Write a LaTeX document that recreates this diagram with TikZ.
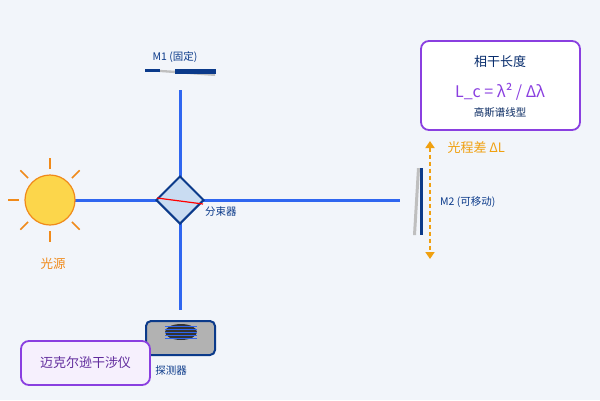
\documentclass[tikz,border=0pt]{standalone}
\usepackage{fontspec}
\setmainfont{Noto Sans CJK SC}
\usetikzlibrary{arrows.meta,shapes.geometric}
\definecolor{bg}{HTML}{F2F5FA}
\definecolor{beam}{HTML}{2F66F0}
\definecolor{dblue}{HTML}{0B3A8A}
\definecolor{purp}{HTML}{8A3FE0}
\definecolor{orng}{HTML}{F0A010}
\definecolor{sunor}{HTML}{F08A1A}
\definecolor{bsfill}{HTML}{C9DCF2}
\begin{document}
\begin{tikzpicture}[x=1pt,y=-1pt,
  beamline/.style={beam,line width=3pt},
  lbl/.style={font=\fontsize{10.5}{12}\selectfont,text=dblue,inner sep=0pt},
  box/.style={draw=purp,line width=1.8pt,rounded corners=8pt}]
\fill[bg] (0,0) rectangle (600,400);
\useasboundingbox (0,0) rectangle (600,400);
% sun
\foreach \a in {0,45,...,315}
  \draw[sunor,line width=1.5pt] (50,200)++(\a:31) -- ++(\a:11);
% beams
\coordinate (sunE) at (75,200); \coordinate (m2) at (400,200);
\coordinate (top) at (180,90); \coordinate (bot) at (180,310);
\draw[beamline] (sunE) -- (m2);
\draw[beamline] (top) -- (bot);
\node[circle,minimum size=50pt,fill=yellow!60!orange!70,draw=sunor,line width=1.2pt,inner sep=0] (sun) at (50,200) {};
\node[font=\fontsize{12.5}{14}\selectfont,text=sunor] (sunl) at (53,264) {光源};
% splitter
\node[diamond,draw=dblue,line width=2pt,fill=bsfill,minimum size=48pt,inner sep=0] (bs) at (180,200) {};
\draw[red,line width=1.2pt] (157,198) -- (203,204);
\node[lbl,anchor=west] (bsl) at (205,212) {分束器};
% M1
\fill[gray!50] (145,71) -- (215,76) -- (215,73) -- (145,69) -- cycle;
\fill[dblue] (175,69) rectangle (216,74);
\fill[dblue] (145,69) rectangle (160,72);
\node[lbl] (m1l) at (175,57) {M1 (固定)};
% M2
\fill[gray!50] (413,235) -- (417,168) -- (420,168) -- (416,235) -- cycle;
\fill[dblue] (420,168) rectangle (423,235);
\node[lbl,anchor=west] (m2l) at (440,202) {M2 (可移动)};
% delta L
\coordinate (dt) at (430,141); \coordinate (db) at (430,259);
\draw[orng,line width=1.8pt,dash pattern=on 4pt off 3pt,{Triangle[length=7pt,width=9pt]}-{Triangle[length=7pt,width=9pt]}] (dt) -- (db);
\node[font=\fontsize{13}{15}\selectfont,text=orng,anchor=west] (dl) at (444,148) {光程差 ΔL};
% detector
\node[draw=dblue,line width=2pt,fill=gray!60,rounded corners=5pt,minimum width=69pt,minimum height=34pt] (det) at (180.5,338) {};
\fill[black!80] (181,332) ellipse (16pt and 8pt);
\foreach \y in {326,329,332,335,338} \draw[beam,line width=1pt] (165,\y) -- (197,\y);
\node[lbl] (detl) at (171,371) {探测器};
% boxes
\node[box,fill=purp!8,minimum width=129pt,minimum height=44pt] (title) at (85.5,363) {};
\node[font=\fontsize{13}{15}\selectfont,text=purp!70!black] at (85.5,363) {迈克尔逊干涉仪};
\node[box,fill=white,minimum width=159pt,minimum height=89pt] (info) at (500.5,85.5) {};
\node[font=\fontsize{13}{15}\selectfont,text=dblue!80!black] at (500,62) {相干长度};
\node[font=\fontsize{16}{18}\selectfont,text=purp] at (500,92) {L\_c = λ² / Δλ};
\node[font=\fontsize{10.5}{12}\selectfont,text=dblue!70!black] at (500,113) {高斯谱线型};
\end{tikzpicture}
\end{document}
